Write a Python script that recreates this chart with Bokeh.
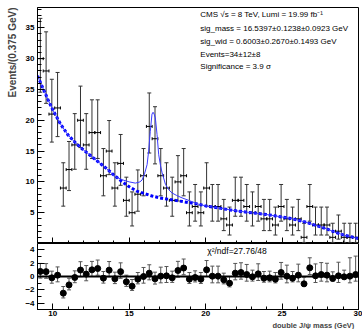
import numpy as np
from bokeh.plotting import figure
from bokeh.layouts import column
from bokeh.models import (Range1d, Whisker, ColumnDataSource, Span, Label, Title,
                          TeeHead, FixedTicker)
from bokeh.embed import file_html
from bokeh.resources import INLINE

# ---------------- data ----------------
bin_width = 0.375
x_start = 9.0
counts = [30, 28, 21, 22, 9, 12, 16, 20, 16, 18, 18, 11, 15, 9, 13, 7, 5, 8, 11, 19,
          17, 11, 9, 7, 10, 11, 5, 6, 5, 9, 6, 6, 4, 3, 7, 7, 6, 5, 6, 4,
          4, 3, 6, 4, 3, 4, 1, 6, 3, 3, 3, 1, 2, 1, 1, 1]
pulls = [0.76, 0.73, -0.2, 0.2, -2.5, -1.26, -0.15, 0.97, 0.36, 1.0, 1.2, -0.25, 0.95, -0.35,
         0.73, -0.8, -1.45, -0.4, 0.0, 0.5, -0.35, 0.05, 0.1, -0.2, 0.9, 1.27, -0.4, -0.15,
         -0.4, 1.0, 0.05, 0.05, -0.5, -1.0, 0.5, 0.6, 0.3, -0.05, 0.4, -0.25, -0.2, -0.4,
         0.6, 0.05, -0.25, 0.2, -1.1, 1.3, 0.1, 0.3, 0.2, -0.3, 0.1, -0.05, 0.05, 0.3]
bkg_x = [9.0, 9.25, 9.5, 9.75, 10.0, 10.5, 11.0, 11.5, 12.0, 12.5, 13.0, 13.5, 14.0, 14.5,
         15.0, 15.5, 16.0, 16.5, 17.0, 17.5, 18.0, 18.5, 19.0, 19.5, 20.0, 21.0, 22.0, 23.0,
         24.0, 24.5, 25.0, 25.5, 26.0, 26.5, 27.0, 27.5, 28.0, 28.5, 29.0, 29.5, 30.0]
bkg_y = [27.2, 25.8, 24.4, 23.0, 21.7, 19.4, 17.6, 16.3, 15.2, 14.2, 13.2, 12.2, 11.1, 10.1,
         9.2, 8.5, 8.1, 7.7, 7.4, 7.2, 7.0, 6.8, 6.6, 6.4, 6.1, 5.7, 5.3, 5.0,
         4.7, 4.5, 4.3, 4.1, 3.8, 3.5, 3.1, 2.7, 2.3, 1.8, 1.4, 1.1, 0.8]
tot_x = [13.5, 14.1, 14.6, 15.0, 15.4, 15.7, 15.84, 16.0, 16.17, 16.27, 16.38, 16.49, 16.56,
         16.63, 16.71, 16.82, 16.93, 17.05, 17.15, 17.37, 17.6, 17.8, 18.1, 18.46, 19.0, 19.5]
tot_y = [12.2, 10.8, 10.3, 10.0, 9.8, 10.0, 10.3, 11.3, 12.8, 15.0, 18.2, 21.0, 21.3,
         21.0, 20.4, 17.7, 14.4, 12.6, 11.5, 9.6, 8.7, 8.2, 7.8, 7.4, 6.9, 6.4]
info_lines = ["CMS  \u221as = 8 TeV, Lumi = 19.99 fb\u207b\u00b9",
              "sig_mass = 16.5397\u00b10.1238\u00b10.0923 GeV",
              "sig_wid = 0.6003\u00b10.2670\u00b10.1493 GeV",
              "Events=34\u00b112\u00b18",
              "Significance = 3.9 \u03c3"]
info_y = [37.1, 34.96, 32.85, 30.7, 28.7]
chi2_text = "\u03c7\u00b2/ndf=27.76/48"
x_title = "double J/\u03c8 mass (GeV)"
x_ticks = [10, 15, 20, 25, 30]
y_ticks = [0, 5, 10, 15, 20, 25, 30, 35]
pull_ticks = [-4, -2, 0, 2, 4]

FONT = "Liberation Sans"

# ---------------- derived ----------------
n = np.array(counts, dtype=float)
centers = x_start + bin_width * (np.arange(len(n)) + 0.5)
err_lo = n - n * (1 - 1 / (9 * n) - 1 / (3 * np.sqrt(n))) ** 3
err_hi = (n + 1) * (1 - 1 / (9 * (n + 1)) + 1 / (3 * np.sqrt(n + 1))) ** 3 - n
pl = np.array(pulls)
p_up = np.where(pl >= 0, err_hi / err_lo, 1.0)
p_dn = np.where(pl >= 0, 1.0, err_lo / err_hi)

src = ColumnDataSource(dict(x=centers, y=n, ylo=n - err_lo, yhi=n + err_hi,
                            xl=centers - bin_width / 2, xh=centers + bin_width / 2,
                            p=pl, plo=pl - p_dn, phi=pl + p_up))

W = 362
LB = 37
RB = 4

def style_axes(p, yticks, yminor, ymaj_in=7, ymin_in=4):
    p.grid.visible = False
    p.outline_line_color = "black"
    p.outline_line_width = 1
    p.background_fill_color = "white"
    p.border_fill_color = "white"
    for ax in p.xaxis + p.yaxis:
        ax.axis_line_color = "black"
        ax.major_tick_line_color = "black"
        ax.minor_tick_line_color = "black"
        ax.major_tick_out = 0
        ax.minor_tick_out = 0
        ax.major_label_text_font = FONT
        ax.major_label_text_font_style = "bold"
        ax.major_label_text_font_size = "8px"
        ax.major_label_text_color = "black"
    p.yaxis.ticker = FixedTicker(ticks=yticks, minor_ticks=yminor)
    p.yaxis.major_tick_in = ymaj_in
    p.yaxis.minor_tick_in = ymin_in
    p.yaxis.major_label_standoff = 3
    p.xaxis.ticker = FixedTicker(ticks=x_ticks, minor_ticks=list(range(9, 31)))
    p.xaxis.major_tick_in = 6
    p.xaxis.minor_tick_in = 3

# ---------------- main panel ----------------
p1 = figure(width=W, height=243, x_range=Range1d(9, 30), y_range=Range1d(0, 38.3),
            output_backend="svg", toolbar_location=None,
            min_border_left=LB, min_border_right=RB, min_border_top=7, min_border_bottom=0)
style_axes(p1, y_ticks, list(range(0, 39)))
p1.xaxis.major_label_overrides = {t: "" for t in x_ticks}
p1.xaxis.major_label_standoff = 0
p1.yaxis.major_label_overrides = {0: ""}

p1.add_layout(Title(text="Events/(0.375 GeV)", align="right", text_font=FONT,
                    text_font_size="10px", text_font_style="bold", offset=0,
                    standoff=9), "left")

p1.line(bkg_x, bkg_y, line_color="#0000ff", line_width=3, line_dash="3 2")
p1.line(bkg_x[:12] + tot_x[1:] + bkg_x[24:], bkg_y[:12] + tot_y[1:] + bkg_y[24:],
        line_color="#3a3aff", line_width=1)

p1.add_layout(Whisker(source=src, base="x", lower="ylo", upper="yhi", dimension="height",
                      line_color="#333333", line_width=1,
                      upper_head=TeeHead(size=4, line_color="#333333", line_width=1),
                      lower_head=TeeHead(size=4, line_color="#333333", line_width=1)))
p1.add_layout(Whisker(source=src, base="y", lower="xl", upper="xh", dimension="width",
                      line_color="black", line_width=1,
                      upper_head=TeeHead(size=3, line_color="black", line_width=1),
                      lower_head=TeeHead(size=3, line_color="black", line_width=1)))

for txt, yy in zip(info_lines, info_y):
    p1.add_layout(Label(x=19.65, y=yy, text=txt, text_font=FONT, text_font_size="8px",
                        text_baseline="middle", text_color="black"))

# ---------------- pull panel ----------------
p2 = figure(width=W, height=86, x_range=p1.x_range, y_range=Range1d(-4.95, 4.95),
            output_backend="svg", toolbar_location=None,
            min_border_left=LB, min_border_right=RB, min_border_top=0, min_border_bottom=0)
style_axes(p2, pull_ticks, list(range(-4, 5)), ymaj_in=7, ymin_in=4)
p2.xaxis.major_label_standoff = 1
p2.add_layout(Title(text=x_title + "\u00a0\u00a0", align="right", text_font=FONT,
                    text_font_size="7.5px", text_font_style="bold", standoff=0), "below")

p2.add_layout(Span(location=0, dimension="width", line_color="black", line_width=2))
p2.add_layout(Whisker(source=src, base="x", lower="plo", upper="phi", dimension="height",
                      line_color="#555555", line_width=1,
                      upper_head=TeeHead(size=4, line_color="#555555", line_width=1),
                      lower_head=TeeHead(size=4, line_color="#555555", line_width=1)))
p2.scatter("x", "p", source=src, size=6, color="black")
p2.add_layout(Label(x=20.1, y=3.9, text=chi2_text, text_font=FONT, text_font_size="8.5px",
                    text_baseline="middle", text_color="black"))

layout = column(p1, p2, spacing=0)
open("out.html", "w").write(file_html(layout, INLINE))
